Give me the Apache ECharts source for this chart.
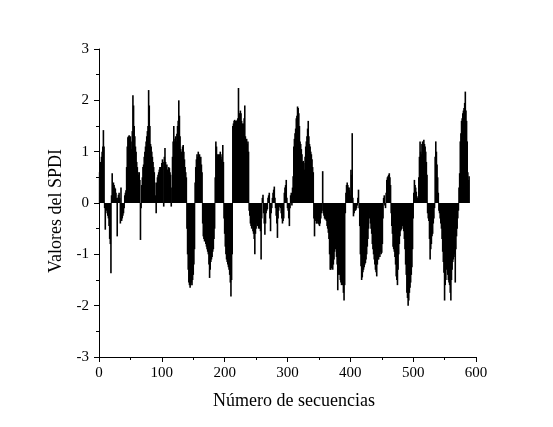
<!DOCTYPE html>
<html>
<head>
<meta charset="utf-8">
<script src="https://cdn.jsdelivr.net/npm/echarts@6/dist/echarts.min.js"></script>
<style>
html,body{margin:0;padding:0;background:#fff;}
#chart{width:553px;height:427px;}
</style>
</head>
<body>
<div id="chart"></div>
<script>
// SPDI values, sequences 1-100
const spdi001 = [0.6,0.8,0.75,0.9,1.0,1.1,1.42,1.1,-0.1,-0.52,
-0.1,-0.15,-0.2,-0.25,-0.3,-0.45,-0.7,-0.8,-1.37,0.15,
0.58,0.35,0.4,0.35,0.3,0.28,0.2,0.1,-0.65,0.1,
0.16,0.2,0.1,-0.4,0.3,-0.35,-0.3,-0.25,-0.2,-0.1,
0.15,0.2,0.25,0.7,1.1,1.28,1.3,1.32,1.25,1.3,
1.2,1.05,1.4,2.1,1.9,1.5,1.3,1.1,1.0,0.8,
0.7,0.6,0.55,0.6,0.45,-0.72,-0.1,0.35,0.5,0.7,
0.75,0.9,1.0,1.1,1.2,1.3,1.4,1.5,2.2,1.9,
1.5,1.15,1.1,1.0,0.9,0.8,0.7,0.6,0.4,0.15,
-0.2,0.4,0.5,0.55,0.6,0.65,0.7,0.7,0.7,0.78];
// sequences 101-200
const spdi101 = [0.85,0.8,-0.07,0.9,1.07,0.8,0.7,0.75,0.65,0.65,
0.7,0.68,0.6,0.55,-0.07,0.3,0.9,1.2,1.5,1.2,
1.25,1.3,1.2,1.35,1.5,1.6,2.0,1.7,1.3,1.05,
1.0,0.95,1.1,1.13,1.0,0.85,0.7,0.6,0.5,-0.5,
-1.0,-1.3,-1.55,-1.6,-1.65,-1.6,-1.55,-1.6,-1.5,-1.4,
-1.2,-0.9,0.4,0.7,0.85,0.95,0.9,1.0,0.9,0.95,
0.85,0.9,0.75,0.6,-0.4,-0.65,-0.7,-0.75,-0.72,-0.8,
-0.85,-0.9,-0.95,-1.0,-1.2,-1.46,-1.3,-1.15,-1.1,-1.05,
-0.95,-0.9,-0.7,-0.5,0.5,1.2,1.1,0.95,0.9,0.95,
0.9,0.95,1.0,0.9,0.85,0.95,1.13,0.8,-0.3,-0.6];
// sequences 201-300
const spdi201 = [-0.85,-1.0,-1.1,-1.15,-1.2,-1.25,-1.3,-1.4,-1.55,-1.82,
-1.5,-1.0,1.5,1.55,1.6,1.62,1.6,1.58,1.6,1.62,
1.65,2.24,1.7,1.75,1.8,1.75,1.6,1.55,1.5,1.55,
1.65,1.9,1.3,1.2,1.25,1.15,1.2,1.0,-0.15,-0.25,
-0.4,-0.45,-0.5,-0.45,-0.55,-0.6,-0.7,-1.0,-0.6,-0.5,
-0.4,-0.45,-0.4,-0.5,-0.45,-0.5,-0.55,-1.1,-0.3,0.1,
0.16,-0.2,-0.4,-0.62,-0.4,-0.2,-0.15,-0.12,0.1,0.15,
0.2,-0.3,-0.55,-0.2,-0.1,0.1,0.2,0.26,0.32,0.1,
-0.1,-0.25,-0.4,-0.68,-0.3,-0.15,-0.05,-0.08,-0.1,-0.2,
-0.3,-0.4,-0.35,-0.3,0.2,0.3,0.35,0.45,0.1,-0.1];
// sequences 301-400
const spdi301 = [-0.15,-0.3,-0.45,-0.1,0.15,0.2,-0.05,0.3,0.52,1.1,
1.25,1.36,1.45,1.65,1.7,1.88,1.85,1.75,1.5,1.2,
1.15,1.05,0.95,0.8,0.82,0.78,0.65,0.9,1.1,1.2,
1.3,1.45,1.6,1.3,1.15,1.1,1.0,0.95,0.85,0.7,
0.6,-0.3,-0.65,-0.35,-0.3,-0.4,-0.4,-0.35,-0.4,-0.42,
-0.45,-0.4,-0.3,-0.2,-0.15,0.62,-0.2,-0.25,-0.3,-0.32,
-0.28,-0.35,-0.45,-0.5,-0.58,-0.7,-1.0,-1.3,-1.3,-1.27,
-1.25,-1.3,-1.2,-1.1,-0.95,-0.9,-0.85,-1.05,-1.2,-1.7,
-1.4,-1.35,-1.4,-1.5,-1.55,-1.6,-1.55,-1.6,-1.75,-1.9,
-1.6,-0.2,0.2,0.35,0.4,0.35,0.3,0.3,0.25,0.15];
// sequences 401-500
const spdi401 = [0.65,0.55,1.36,0.1,-0.26,-0.2,-0.15,-0.15,-0.13,-0.1,
-0.05,0.1,0.26,-0.1,-0.45,-1.0,-1.23,-1.5,-1.45,-1.35,
-1.3,-1.25,-1.2,-1.17,-1.1,-1.0,-0.85,-0.7,-0.5,-0.3,
-0.1,-0.4,-0.5,-0.6,-0.8,-0.9,-1.0,-1.1,-1.2,-1.3,
-1.35,-1.43,-1.2,-1.1,-1.1,-1.0,-1.05,-0.95,-1.0,-0.97,
-0.8,-0.3,0.1,0.15,-0.05,-0.1,0.2,0.45,0.5,0.52,
0.55,0.58,0.5,0.35,-0.2,-0.45,-0.6,-0.85,-0.9,-0.95,
-1.05,-1.2,-1.43,-1.5,-1.6,-1.3,-1.0,-0.8,-0.65,-0.55,
-0.52,-0.5,-0.45,-0.45,-0.55,-0.7,-0.9,-1.2,-1.4,-1.75,
-1.85,-2.0,-1.9,-1.75,-1.65,-1.55,-1.4,-1.25,-0.9,-0.3];
// sequences 501-589
const spdi501 = [0.2,0.45,0.35,0.3,0.22,0.13,0.1,0.08,0.5,0.9,
1.2,1.0,0.95,1.15,1.2,1.1,1.23,1.15,1.1,1.0,
0.8,0.55,-0.2,-0.3,-0.35,-0.7,-1.1,-0.9,-0.8,-0.65,
-0.6,-0.4,-0.3,-0.1,0.9,1.2,1.0,0.75,0.5,0.2,
-0.15,-0.2,-0.3,-0.4,-0.5,-0.7,-0.95,-1.15,-1.36,-1.9,
-1.6,-1.5,-1.3,-1.25,-1.4,-1.5,-1.55,-1.6,-1.75,-1.9,
-1.5,-1.3,-1.15,-1.1,-1.05,-1.0,-1.55,-0.9,-0.65,-0.5,
-0.3,-0.15,0.3,0.58,1.2,1.36,1.6,1.65,1.75,1.8,
1.85,1.95,2.17,1.8,1.6,1.2,0.6,0.45,0.52];

const xTicks = [0, 100, 200, 300, 400, 500, 600];
const yTicks = [-3, -2, -1, 0, 1, 2, 3];

const spdi = [].concat(spdi001, spdi101, spdi201, spdi301, spdi401, spdi501);
const seriesData = spdi.map((v, i) => [i + 1, v]);

const FONT = 'Liberation Serif';
const chart = echarts.init(document.getElementById('chart'), null, {renderer: 'canvas'});
chart.setOption({
  animation: false,
  backgroundColor: '#ffffff',
  grid: {left: 99, right: 77, top: 49, bottom: 70, containLabel: false},
  xAxis: {
    type: 'value',
    min: xTicks[0], max: xTicks[xTicks.length - 1], interval: 100,
    name: 'Número de secuencias',
    nameLocation: 'middle', nameGap: 35,
    nameTextStyle: {fontFamily: FONT, fontSize: 18, color: '#000', padding: [0, 0, 0, 13]},
    axisLine: {show: true, onZero: false, lineStyle: {color: '#000', width: 1}},
    axisTick: {show: true, inside: false, length: 5, lineStyle: {color: '#000'}},
    minorTick: {show: true, splitNumber: 2, length: 3, lineStyle: {color: '#000'}},
    axisLabel: {fontFamily: FONT, fontSize: 15, color: '#000', margin: 9},
    splitLine: {show: false}
  },
  yAxis: {
    type: 'value',
    min: yTicks[0], max: yTicks[yTicks.length - 1], interval: 1,
    name: 'Valores del SPDI',
    nameLocation: 'middle', nameGap: 31, nameRotate: 90,
    nameTextStyle: {fontFamily: FONT, fontSize: 18, color: '#000', padding: [0, 16, 0, 0]},
    axisLine: {show: true, onZero: false, lineStyle: {color: '#000', width: 1}},
    axisTick: {show: true, inside: false, length: 5, lineStyle: {color: '#000'}},
    minorTick: {show: true, splitNumber: 2, length: 3, lineStyle: {color: '#000'}},
    axisLabel: {fontFamily: FONT, fontSize: 15, color: '#000', margin: 10},
    splitLine: {show: false}
  },
  series: [{
    type: 'bar',
    data: seriesData,
    barWidth: 1.6,
    itemStyle: {color: '#000'},
    silent: true
  }]
});
</script>
</body>
</html>
